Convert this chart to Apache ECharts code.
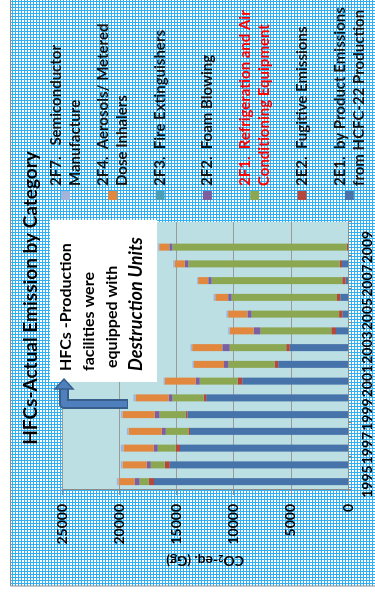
<!DOCTYPE html>
<html>
<head>
<meta charset="utf-8">
<script src="https://cdn.jsdelivr.net/npm/echarts@6/dist/echarts.min.js"></script>
<style>
  html, body { margin: 0; padding: 0; width: 375px; height: 596px; overflow: hidden; background: #fff; }
  /* the slide shows the chart turned a quarter turn, so lay it out landscape and rotate the box */
  #chart { position: absolute; left: 0; top: 0; width: 596px; height: 375px;
           transform-origin: 0 0; transform: translate(0, 596px) rotate(-90deg); }
</style>
</head>
<body>
<div id="chart"></div>
<script>
// last category is an empty slot, the plot area has room for 16
const years = ['1995', '1996', '1997', '1998', '1999', '2000', '2001', '2002',
               '2003', '2004', '2005', '2006', '2007', '2008', '2009', ''];

// Gg CO2-eq
const byProduct   = [16950, 15580, 14680, 13810, 14040, 12380, 9240, 6100, 5090, 1050, 470, 670, 210, 520, 0];
const fugitive    = [460, 440, 380, 140, 150, 240, 410, 320, 310, 410, 310, 290, 290, 210, 120];
const refrig      = [810, 1220, 1570, 1980, 2290, 2730, 3310, 4040, 4940, 6190, 7650, 9220, 11420, 13220, 15230];
const foam        = [440, 350, 350, 350, 410, 320, 350, 380, 640, 580, 350, 290, 290, 300, 260];
const fireExt     = [0, 0, 0, 0, 0, 0, 0, 0, 20, 20, 20, 20, 20, 20, 20];
const aerosols    = [1400, 2120, 2640, 2900, 2820, 2880, 2700, 2620, 2620, 2090, 1680, 1110, 870, 870, 870];
const semicond    = [150, 150, 240, 150, 150, 200, 110, 140, 150, 140, 150, 150, 90, 140, 90];

const names = [
    '2E1.  by Product Emissions\nfrom HCFC-22 Production',
    '2E2.  Fugitive Emissions',
    '2F1.  Refrigeration and Air\nConditioning Equipment',
    '2F2.  Foam Blowing',
    '2F3.  Fire Extinguishers',
    '2F4.  Aerosols/ Metered\nDose Inhalers',
    '2F7.   Semiconductor\nManufacture'
];
const values = [byProduct, fugitive, refrig, foam, fireExt, aerosols, semicond];
const colors = ['#4673a9', '#b4483f', '#8ca752', '#7c5f9e', '#4a9eb6', '#e2873e', '#a3b4db'];

// excel style dotted background
const tile = document.createElement('canvas');
tile.width = 3; tile.height = 3;
const tctx = tile.getContext('2d');
tctx.fillStyle = '#ffffff';
tctx.fillRect(0, 0, 3, 3);
tctx.fillStyle = '#30b0f2';
tctx.fillRect(0, 0, 3, 1);
tctx.fillRect(0, 0, 1, 3);

const LH = 19;
const legendData = names.slice().reverse().map(n => {
    let twoLines = n.indexOf('\n') > -1;
    let item = {
        name: n,
        textStyle: { padding: twoLines ? [LH, 0, 0, 0] : [LH, 0, LH, 0] }
    };
    if (n.indexOf('2F1') === 0) item.textStyle.color = '#ff0000';
    return item;
});

const chart = echarts.init(document.getElementById('chart'));
chart.setOption({
    animation: false,
    textStyle: { fontFamily: 'Lato' },
    title: {
        text: 'HFCs-Actual Emission by Category',
        left: 'center',
        top: 21,
        padding: [0, 0, 0, 27],
        textStyle: { fontSize: 19, fontWeight: 'bold', color: '#000', fontFamily: 'Lato' }
    },
    legend: {
        orient: 'vertical',
        left: 396,
        top: 37,
        height: 360,
        padding: 0,
        itemGap: -9.7,
        itemWidth: 9,
        itemHeight: 9,
        icon: 'rect',
        selectedMode: false,
        data: legendData,
        textStyle: {
            fontSize: 15, fontWeight: 'bold', color: '#111', lineHeight: LH,
            backgroundColor: 'rgba(0,0,0,0)'
        }
    },
    grid: {
        left: 106, right: 222, top: 62, bottom: 27,
        show: true, backgroundColor: '#bcdfe3', borderWidth: 0,
        outerBoundsMode: 'none'
    },
    xAxis: {
        type: 'category',
        data: years,
        axisLine: { lineStyle: { color: '#8c8c8c', width: 1 } },
        axisTick: { show: true, length: 4, lineStyle: { color: '#8c8c8c' } },
        axisLabel: { interval: 1, fontSize: 14, fontWeight: 'bold', color: '#000', margin: 12 }
    },
    yAxis: {
        type: 'value',
        min: 0, max: 25000, interval: 5000,
        name: 'CO{s|2}-eq. (Gg)',
        nameLocation: 'middle',
        nameRotate: 90,
        nameGap: 63,
        nameTextStyle: {
            fontSize: 14, fontWeight: 'bold', color: '#000',
            rich: { s: { fontSize: 9, fontWeight: 'bold', color: '#000', padding: [6, 0, 0, 0] } }
        },
        axisLine: { show: true, lineStyle: { color: '#8c8c8c', width: 1 } },
        axisTick: { show: true, length: 5, lineStyle: { color: '#8c8c8c' } },
        axisLabel: {
            fontSize: 14, fontWeight: 'bold', color: '#000', margin: 14,
            formatter: value => String(value)
        },
        splitLine: { lineStyle: { color: '#9a9a9a', width: 1 } }
    },
    series: names.map((n, i) => ({
        name: n,
        type: 'bar',
        stack: 'all',
        barWidth: 7,
        itemStyle: { color: colors[i] },
        data: values[i]
    })),
    graphic: [
        {
            type: 'rect', z: -1, silent: true,
            shape: { x: 10, y: 10.5, width: 600, height: 380 },
            style: { fill: { image: tile, repeat: 'repeat' }, stroke: '#8c8c8c', lineWidth: 1 }
        },
        // note box
        {
            type: 'rect', z: 50,
            shape: { x: 214, y: 50, width: 162, height: 107 },
            style: { fill: '#ffffff' }
        },
        { type: 'text', z: 51, x: 225, y: 66,
          style: { text: 'HFCs -Production', fontSize: 16, fontWeight: 'bold', fontFamily: 'Lato', fill: '#000', verticalAlign: 'middle' } },
        { type: 'text', z: 51, x: 225, y: 89,
          style: { text: 'facilities were', fontSize: 16, fontWeight: 'bold', fontFamily: 'Lato', fill: '#000', verticalAlign: 'middle' } },
        { type: 'text', z: 51, x: 228, y: 112,
          style: { text: 'equipped with', fontSize: 16, fontWeight: 'bold', fontFamily: 'Lato', fill: '#000', verticalAlign: 'middle' } },
        { type: 'text', z: 51, x: 225, y: 136,
          style: { text: 'Destruction Units', fontSize: 18, fontWeight: 'bold', fontStyle: 'italic', fontFamily: 'Lato', fill: '#000', verticalAlign: 'middle' } },
        // bent arrow
        {
            type: 'polyline', z: 52,
            shape: { points: [[192, 128], [192, 64], [207, 64]] },
            style: { fill: null, stroke: '#385e8c', lineWidth: 10, lineJoin: 'round' }
        },
        {
            type: 'polyline', z: 53,
            shape: { points: [[192, 127], [192, 64], [208, 64]] },
            style: { fill: null, stroke: '#4f7fbd', lineWidth: 6, lineJoin: 'round' }
        },
        {
            type: 'polygon', z: 54,
            shape: { points: [[207, 55], [207, 73], [217, 64]] },
            style: { fill: '#4f7fbd', stroke: '#385e8c', lineWidth: 1.5 }
        }
    ]
});
</script>
</body>
</html>
